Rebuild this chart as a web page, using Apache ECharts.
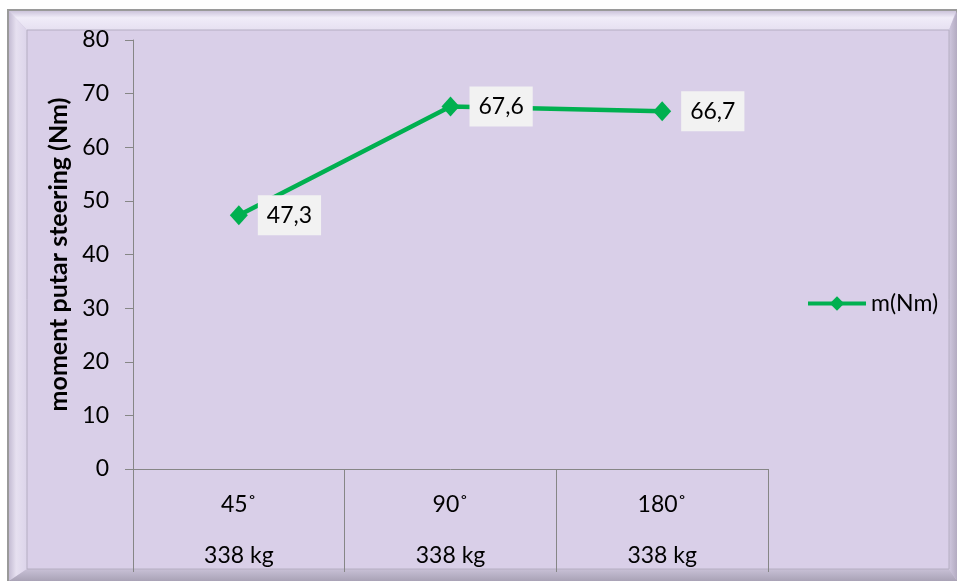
<!DOCTYPE html>
<html>
<head>
<meta charset="utf-8">
<script src="https://cdn.jsdelivr.net/npm/echarts@6/dist/echarts.min.js"></script>
<style>
html,body{margin:0;padding:0;background:#fff;}
#c{width:957px;height:581px;}
</style>
</head>
<body>
<div id="c"></div>
<script>
const categories = ['45˚', '90˚', '180˚'];
const loads = ['338 kg', '338 kg', '338 kg'];
const moment = [47.3, 67.6, 66.7];
const seriesName = 'm(Nm)';
const yTitle = 'moment putar steering (Nm)';
const yMin = 0, yMax = 80, yStep = 10;

const FONT = 'Lato';
const chart = echarts.init(document.getElementById('c'), null, {renderer: 'canvas'});
const axisGray = '#868686';

chart.setOption({
  backgroundColor: '#ffffff',
  animation: false,
  textStyle: {fontFamily: FONT, color: '#000'},
  graphic: {
    elements: [
      {type: 'rect', z: -10, shape: {x: 8, y: 10, width: 949, height: 571},
       style: {fill: '#CBC2DB', stroke: '#9A9A9A', lineWidth: 2}},
      {type: 'polygon', z: -9, shape: {points: [[9,11],[956,11],[949,30],[27,30]]},
       style: {fill: {type: 'linear', x: 0, y: 0, x2: 0, y2: 1, colorStops: [{offset: 0, color: '#CCC4DB'}, {offset: 0.35, color: '#F0ECF8'}, {offset: 1, color: '#E6E0F1'}]}}},
      {type: 'polygon', z: -9, shape: {points: [[9,11],[27,30],[27,569],[9,581]]},
       style: {fill: {type: 'linear', x: 0, y: 0, x2: 1, y2: 0, colorStops: [{offset: 0, color: '#C4BCD3'}, {offset: 0.4, color: '#E6E0F0'}, {offset: 1, color: '#DCD4EA'}]}}},
      {type: 'polygon', z: -9, shape: {points: [[27,569],[949,569],[957,581],[9,581]]},
       style: {fill: {type: 'linear', x: 0, y: 0, x2: 0, y2: 1, colorStops: [{offset: 0, color: '#C8C0D6'}, {offset: 1, color: '#A9A2B6'}]}}},
      {type: 'polygon', z: -9, shape: {points: [[949,30],[957,11],[957,581],[949,569]]},
       style: {fill: {type: 'linear', x: 0, y: 0, x2: 1, y2: 0, colorStops: [{offset: 0, color: '#CFC7DE'}, {offset: 1, color: '#B3ABC1'}]}}},
      {type: 'rect', z: -8, shape: {x: 27, y: 30, width: 922, height: 539},
       style: {fill: '#D9CFE8', stroke: '#B5AEC2', lineWidth: 1}}
    ]
  },
  grid: {left: 133, right: 189, top: 40, bottom: 111, containLabel: false},
  legend: {
    left: 801, top: 287,
    itemWidth: 58, itemHeight: 18, itemGap: 4,
    lineStyle: {width: 4},
    itemStyle: {color: '#00B050'},
    textStyle: {fontFamily: FONT, fontSize: 23, color: '#000'},
    data: [seriesName]
  },
  xAxis: {
    type: 'category',
    data: categories,
    boundaryGap: true,
    axisLine: {show: true, lineStyle: {color: axisGray, width: 1}},
    axisTick: {show: true, length: 103, interval: 0, alignWithLabel: false, lineStyle: {color: axisGray, width: 1}},
    axisLabel: {
      interval: 0, margin: 10, fontFamily: FONT, fontSize: 23, color: '#000', lineHeight: 51,
      formatter: function (v, i) { return v + '\n' + loads[i]; }
    },
    splitLine: {show: false}
  },
  yAxis: {
    type: 'value',
    min: yMin, max: yMax, interval: yStep,
    name: yTitle,
    nameLocation: 'middle',
    nameGap: 58,
    nameRotate: 90,
    nameTextStyle: {fontFamily: FONT, fontSize: 25, fontWeight: 'bold', color: '#000'},
    axisLine: {show: true, lineStyle: {color: axisGray, width: 1}},
    axisTick: {show: true, length: 8, lineStyle: {color: axisGray, width: 1}},
    axisLabel: {margin: 24, fontFamily: FONT, fontSize: 23, color: '#000'},
    splitLine: {show: false}
  },
  series: [{
    name: seriesName,
    type: 'line',
    data: moment,
    symbol: 'diamond',
    symbolSize: [18, 20],
    lineStyle: {color: '#00B050', width: 4.5},
    itemStyle: {color: '#00B050'},
    label: {
      show: true,
      position: 'right',
      distance: 10,
      fontFamily: FONT,
      fontSize: 23,
      color: '#000',
      backgroundColor: '#F2F2F2',
      padding: [9, 9, 8, 9],
      formatter: function (p) { return p.value.toFixed(1).replace('.', ','); }
    }
  }]
});
</script>
</body>
</html>
